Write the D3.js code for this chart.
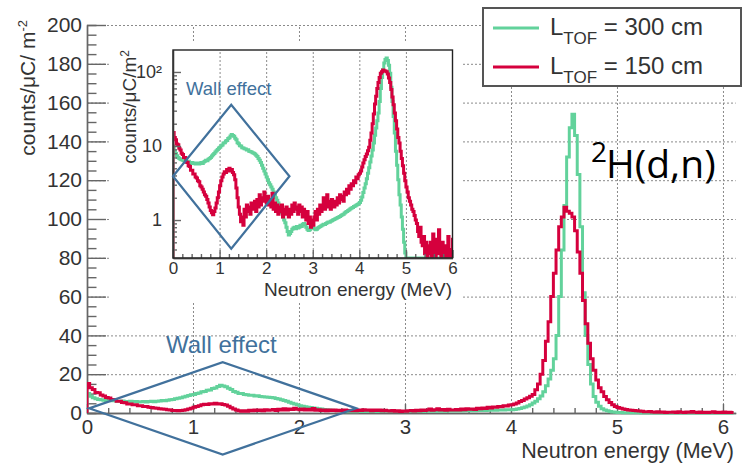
<!DOCTYPE html>
<html>
<head>
<meta charset="utf-8">
<script src="https://cdn.jsdelivr.net/npm/d3@7"></script>
<style>
  html, body { margin: 0; padding: 0; background: #fff; }
  svg { display: block; font-family: "Liberation Sans", Arial, Helvetica, sans-serif; }
</style>
</head>
<body>
<svg id="chart" width="742" height="463"></svg>
<script>
// Neutron energy spectra, histogram bins of 0.025 MeV starting at 0 MeV
const binWidth = 0.025;

// counts/uC/m^2, flight path 300 cm
const countsL300 = [
  10.0, 8.6, 7.9, 7.4, 7.0, 6.8, 6.6, 6.5, 6.4, 6.3, 6.3, 6.1, 6.0, 6.2, 5.9, 5.8, 6.0, 5.8, 5.9, 5.7,
  5.8, 5.9, 5.7, 5.9, 6.0, 5.8, 6.1, 6.2, 6.4, 6.3, 6.6, 6.8, 7.0, 7.3, 7.6, 7.9, 8.3, 8.6, 9.0, 9.4,
  9.6, 10.1, 10.3, 11.0, 11.1, 11.7, 11.9, 12.6, 12.9, 13.7, 14.3, 13.9, 13.5, 12.7, 12.1, 11.1, 10.7, 10.1, 10.0, 9.5,
  9.4, 9.2, 9.1, 8.8, 8.9, 8.5, 8.4, 8.3, 8.1, 8.0, 7.8, 7.5, 7.2, 6.8, 6.4, 6.0, 5.5, 5.0, 4.6, 4.2,
  3.8, 3.5, 3.2, 3.0, 2.8, 2.6, 2.4, 2.2, 2.0, 1.85, 1.7, 1.5, 1.4, 1.25, 1.1, 1.0, 0.92, 0.8, 0.7, 0.63,
  0.66, 0.7, 0.75, 0.78, 0.8, 0.76, 0.82, 0.78, 0.8, 0.85, 0.82, 0.88, 0.9, 0.86, 0.8, 0.75, 0.72, 0.74, 0.78, 0.8,
  0.78, 0.76, 0.74, 0.75, 0.78, 0.8, 0.82, 0.84, 0.86, 0.88, 0.87, 0.9, 0.92, 0.94, 0.93, 0.96, 0.98, 1.0, 1.02, 1.04,
  1.06, 1.08, 1.1, 1.12, 1.15, 1.18, 1.2, 1.24, 1.28, 1.3, 1.34, 1.38, 1.42, 1.45, 1.48, 1.52, 1.55, 1.58, 1.62, 1.66,
  1.72, 1.85, 2.05, 2.35, 2.7, 3.1, 3.6, 4.3, 5.1, 6.1, 7.3, 8.8, 11, 14, 17.5, 22, 28, 40, 60, 84,
  107, 132, 147, 154, 143, 123, 96, 62, 40, 25, 15, 8.5, 5.5, 3.5, 2.2, 1.6, 1.1, 0.75, 0.5, 0.36,
  0.28, 0.22, 0.18, 0.15, 0.12, 0.1, 0.09, 0.08, 0.07, 0.06, 0.05, 0.05, 0.04, 0.04, 0.03, 0.03, 0.03, 0.02, 0.02, 0.02,
  0.02, 0.02, 0.01, 0.02, 0.01, 0.01, 0.02, 0.01, 0.01, 0.01, 0.01, 0.02, 0.01, 0.01, 0.01, 0.01, 0.01, 0.01, 0.01, 0.01,
  0.01, 0.01, 0.01, 0.01
];

// counts/uC/m^2, flight path 150 cm
const countsL150 = [
  15.2, 13.0, 12.1, 10.6, 10.4, 9.3, 8.8, 8.0, 7.7, 7.0, 7.0, 6.1, 6.0, 5.4, 5.3, 4.7, 4.7, 4.2, 4.2, 3.8,
  3.7, 3.4, 3.3, 2.9, 2.8, 2.6, 2.4, 2.2, 2.1, 1.9, 1.7, 1.5, 1.35, 1.25, 1.18, 1.3, 1.45, 1.7, 2.0, 2.4,
  2.9, 3.4, 3.8, 4.2, 4.5, 4.4, 4.8, 4.6, 5.0, 4.6, 4.8, 4.4, 4.1, 3.5, 2.7, 2.0, 1.5, 1.2, 0.95, 1.1,
  0.85, 1.4, 1.1, 1.6, 1.3, 1.5, 1.2, 1.7, 1.4, 1.6, 1.8, 1.3, 1.9, 1.5, 2.2, 1.6, 2.0, 1.8, 2.4, 1.9,
  1.7, 2.1, 1.6, 1.9, 1.5, 2.3, 1.4, 1.7, 1.3, 1.6, 1.2, 1.5, 1.3, 1.6, 1.1, 1.4, 1.2, 1.5, 1.3, 1.1,
  1.4, 1.2, 1.6, 1.3, 1.7, 1.4, 1.5, 1.2, 1.6, 1.3, 1.5, 1.1, 1.4, 1.2, 1.0, 1.3, 0.9, 1.1, 0.8, 1.0,
  0.85, 1.1, 1.3, 1.0, 1.4, 1.2, 1.6, 1.3, 1.5, 2.0, 1.4, 1.7, 2.2, 1.5, 1.8, 1.4, 1.9, 1.6, 1.5, 1.8,
  1.6, 2.0, 1.7, 2.2, 1.9, 2.1, 1.8, 2.4, 2.2, 2.6, 2.3, 2.9, 2.6, 3.1, 2.9, 3.4, 3.2, 3.8, 3.6, 4.1,
  4.3, 4.6, 5.2, 5.9, 6.5, 7.2, 7.8, 8.6, 9.6, 12, 15, 20, 27, 37, 47, 60, 72, 84, 96, 101,
  106, 104, 103, 101, 94, 83, 72, 58, 46, 36, 28, 22, 17, 13, 11, 8.5, 6.8, 5.4, 4.3, 3.4,
  2.8, 2.4, 2.0, 1.8, 1.6, 1.4, 1.3, 1.15, 1.0, 0.9, 0.7, 0.6, 0.8, 0.5, 0.45, 0.6, 0.35, 0.5, 0.3, 0.45,
  0.35, 0.5, 0.3, 0.65, 0.4, 0.3, 0.55, 0.35, 0.74, 0.4, 0.3, 0.5, 0.3, 0.45, 0.3, 0.35, 0.6, 0.3, 0.4, 0.3,
  0.55, 0.3, 0.45, 0.3
];

const energyTicks = [0, 1, 2, 3, 4, 5, 6];
const countTicks = [0, 20, 40, 60, 80, 100, 120, 140, 160, 180, 200];
const logTicks = [1, 10, 100];
const logTickLabels = ["1", "10", "10\u00B2"];
const legendDistances = ["300 cm", "150 cm"];

// "Wall effect" outlines, in (MeV, counts) of each panel
const wallBoxMain = [[0.02, 2.4], [1.28, 26.2], [2.54, 2.4], [1.28, -21.4]];
const wallBoxInset = [[0.0, 3.9], [1.25, 36], [2.5, 3.9], [1.25, 0.41]];

const GREEN = "#62d29b";
const RED = "#d5003d";
const BLUE = "#41719c";
const AXIS = "#666";
const GRID = "#8a8a8a";
const TEXT = "#333";
const intFmt = d3.format("d");

const svg = d3.select("#chart");

// ---------- main panel ----------
const x = d3.scaleLinear().domain([0, 6.12]).range([87, 735.7]);
const y = d3.scaleLinear().domain([0, 200]).range([413, 25]);

const grid = svg.append("g").attr("stroke", GRID).attr("stroke-width", 1).attr("stroke-dasharray", "2,2");
grid.selectAll("line.h").data(countTicks.slice(1)).join("line")
  .attr("x1", x(0)).attr("x2", x.range()[1])
  .attr("y1", d => y(d) + 0.5).attr("y2", d => y(d) + 0.5);
grid.selectAll("line.v").data(energyTicks.slice(1)).join("line")
  .attr("y1", y(0)).attr("y2", y(200))
  .attr("x1", d => x(d) + 0.5).attr("x2", d => x(d) + 0.5);

function styleAxis(g, fontSize) {
  g.selectAll("path.domain").attr("stroke", AXIS).attr("stroke-width", 1.4);
  g.selectAll(".tick line").attr("stroke", AXIS).attr("stroke-width", 1.4);
  g.selectAll(".tick text").attr("fill", TEXT).style("font-size", fontSize + "px")
    .style("font-family", '"Liberation Sans", Arial, sans-serif');
}

const isMinor = v => Math.abs(v - Math.round(v)) > 0.01;

// minor ticks
svg.append("g").attr("transform", `translate(${x(0)},0)`)
  .call(d3.axisLeft(y).tickValues(d3.range(5, 200, 5).filter(v => v % 20 !== 0)).tickSize(-9.5).tickFormat(""))
  .call(g => styleAxis(g, 21));
svg.append("g").attr("transform", `translate(0,${y(0)})`)
  .call(d3.axisBottom(x).tickValues(d3.range(0.2, 6.05, 0.2).filter(isMinor)).tickSize(-5).tickSizeOuter(0).tickFormat(""))
  .call(g => styleAxis(g, 21));
// major ticks with labels
svg.append("g").attr("transform", `translate(${x(0)},0)`)
  .call(d3.axisLeft(y).tickValues(countTicks).tickSize(-19).tickSizeOuter(0).tickPadding(5).tickFormat(intFmt))
  .call(g => styleAxis(g, 21));
svg.append("g").attr("transform", `translate(0,${y(0)})`)
  .call(d3.axisBottom(x).tickValues(energyTicks).tickSize(-9).tickSizeOuter(0).tickPadding(6).tickFormat(intFmt))
  .call(g => styleAxis(g, 20.5));

// axis titles
svg.append("text")
  .attr("x", 734).attr("y", 458.3).attr("text-anchor", "end")
  .attr("fill", TEXT).style("font-size", "21.5px")
  .text("Neutron energy (MeV)");
const yTitle = svg.append("text")
  .attr("transform", "translate(35,20) rotate(-90)").attr("text-anchor", "end")
  .attr("fill", TEXT).style("font-size", "21px");
yTitle.append("tspan").text("counts/\u03BCC/ m");
yTitle.append("tspan").attr("dy", -8).style("font-size", "13px").text("-2");

function histPath(values, xs, ys, floor) {
  let p = `M${xs(0)},${floor}`;
  values.forEach((v, i) => { p += `V${ys(v)}H${xs((i + 1) * binWidth)}`; });
  return p;
}

svg.append("clipPath").attr("id", "clipMain").append("rect")
  .attr("x", x(0)).attr("y", y(200)).attr("width", x.range()[1] - x(0)).attr("height", y(0) - y(200) + 3);

const mainCurves = svg.append("g").attr("clip-path", "url(#clipMain)");
[[countsL300, GREEN], [countsL150, RED]].forEach(([vals, col]) => {
  mainCurves.append("path")
    .attr("d", histPath(vals, x, y, y(0)))
    .attr("fill", "none").attr("stroke", col).attr("stroke-width", 3);
});

// wall effect outline in main panel
svg.append("path")
  .attr("d", d3.line().x(d => x(d[0])).y(d => y(d[1])).curve(d3.curveLinearClosed)(wallBoxMain))
  .attr("fill", "none").attr("stroke", BLUE).attr("stroke-width", 2.2);
svg.append("text").attr("x", 166).attr("y", 353)
  .attr("fill", BLUE).style("font-size", "24px").text("Wall effect");

// ---------- inset (log scale) ----------
const xi = d3.scaleLinear().domain([0, 6]).range([173, 452.5]);
const yi = d3.scaleLog().domain([0.307, 198]).range([258, 50]);
const yiMin = yi.domain()[0];

svg.append("rect").attr("x", 110).attr("y", 42).attr("width", 353).attr("height", 260).attr("fill", "#fff");

svg.append("g").attr("stroke", GRID).attr("stroke-width", 1).attr("stroke-dasharray", "2,2")
  .selectAll("line").data(energyTicks.slice(1, -1)).join("line")
  .attr("y1", yi.range()[0]).attr("y2", yi.range()[1])
  .attr("x1", d => xi(d) + 0.5).attr("x2", d => xi(d) + 0.5);

svg.append("clipPath").attr("id", "clipInset").append("rect")
  .attr("x", xi(0)).attr("y", yi.range()[1]).attr("width", xi(6) - xi(0)).attr("height", yi.range()[0] - yi.range()[1]);

const insetCurves = svg.append("g").attr("clip-path", "url(#clipInset)");
[[countsL300, GREEN], [countsL150, RED]].forEach(([vals, col]) => {
  insetCurves.append("path")
    .attr("d", histPath(vals, xi, v => yi(Math.max(v, yiMin)), yi.range()[0]))
    .attr("fill", "none").attr("stroke", col).attr("stroke-width", 3);
});

// inset axes
const logMinor = [0.4, 0.5, 0.6, 0.7, 0.8, 0.9, 2, 3, 4, 5, 6, 7, 8, 9, 20, 30, 40, 50, 60, 70, 80, 90];
svg.append("g").attr("transform", `translate(${xi(0)},0)`)
  .call(d3.axisLeft(yi).tickValues(logMinor).tickSize(-4).tickSizeOuter(0).tickFormat(""))
  .call(g => styleAxis(g, 18));
svg.append("g").attr("transform", `translate(0,${yi.range()[0]})`)
  .call(d3.axisBottom(xi).tickValues(d3.range(0.2, 6, 0.2).filter(isMinor)).tickSize(-4).tickSizeOuter(0).tickFormat(""))
  .call(g => styleAxis(g, 18));
svg.append("g").attr("transform", `translate(${xi(0)},0)`)
  .call(d3.axisLeft(yi).tickValues(logTicks).tickSize(-8).tickSizeOuter(0).tickPadding(11)
    .tickFormat((d, i) => logTickLabels[i]))
  .call(g => styleAxis(g, 18));
svg.append("g").attr("transform", `translate(0,${yi.range()[0]})`)
  .call(d3.axisBottom(xi).tickValues(energyTicks).tickSize(-8).tickSizeOuter(0).tickPadding(4).tickFormat(intFmt))
  .call(g => styleAxis(g, 17));

// inset frame
svg.append("rect")
  .attr("x", xi(0)).attr("y", yi.range()[1])
  .attr("width", xi(6) - xi(0)).attr("height", yi.range()[0] - yi.range()[1])
  .attr("fill", "none").attr("stroke", "#222").attr("stroke-width", 1.4);

svg.append("text")
  .attr("x", 452).attr("y", 295.5).attr("text-anchor", "end")
  .attr("fill", TEXT).style("font-size", "19px")
  .text("Neutron energy (MeV)");
const yiTitle = svg.append("text")
  .attr("transform", "translate(136,50) rotate(-90)").attr("text-anchor", "end")
  .attr("fill", TEXT).style("font-size", "19px");
yiTitle.append("tspan").text("counts/\u03BCC/m");
yiTitle.append("tspan").attr("dy", -7).style("font-size", "12px").text("2");

svg.append("path")
  .attr("d", d3.line().x(d => xi(d[0])).y(d => yi(d[1])).curve(d3.curveLinearClosed)(wallBoxInset))
  .attr("fill", "none").attr("stroke", BLUE).attr("stroke-width", 2.2);
svg.append("text").attr("x", 186).attr("y", 95)
  .attr("fill", BLUE).style("font-size", "18.5px").text("Wall effect");

// ---------- legend ----------
const legend = svg.append("g");
legend.append("rect").attr("x", 483).attr("y", 8).attr("width", 258).attr("height", 78)
  .attr("fill", "#fff").attr("stroke", "#555").attr("stroke-width", 2);
[GREEN, RED].forEach((col, i) => {
  const ly = 28 + i * 39;
  legend.append("line").attr("x1", 493).attr("x2", 539).attr("y1", ly).attr("y2", ly)
    .attr("stroke", col).attr("stroke-width", 3);
  const t = legend.append("text").attr("x", 550).attr("y", ly + 7).attr("fill", TEXT).style("font-size", "24px");
  t.append("tspan").text("L");
  t.append("tspan").attr("dy", 9).style("font-size", "17px").text("TOF");
  t.append("tspan").attr("dy", -9).text(" = " + legendDistances[i]);
});

// reaction label
svg.append("text").attr("x", 591).attr("y", 161.5)
  .style("font-family", '"Open Sans", "Noto Sans", sans-serif').style("font-size", "28px")
  .attr("fill", "#000").text("2");
svg.append("text").attr("x", 606).attr("y", 178.3)
  .style("font-family", '"Open Sans", "Noto Sans", sans-serif').style("font-size", "39px")
  .attr("fill", "#000").text("H(d,n)");
</script>
</body>
</html>
